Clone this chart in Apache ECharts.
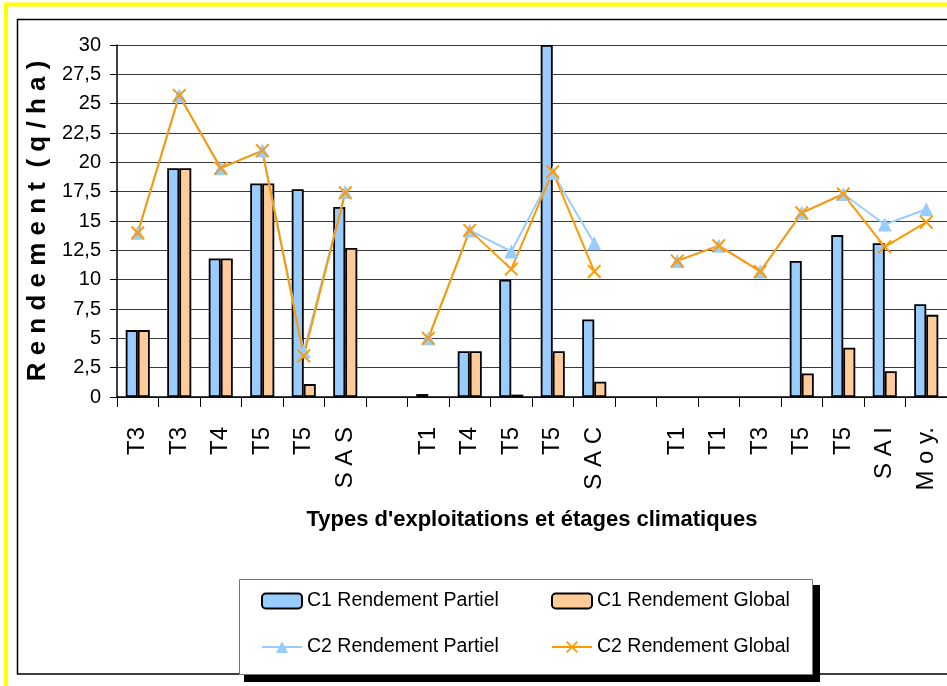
<!DOCTYPE html>
<html>
<head>
<meta charset="utf-8">
<script src="https://cdn.jsdelivr.net/npm/echarts@6/dist/echarts.min.js"></script>
<style>html,body{margin:0;padding:0;background:#fff;}#chart{width:947px;height:686px;}</style>
</head>
<body>
<div id="chart"></div>
<script>
// Category labels (empty strings are the gaps between groups)
const categories = ['T3','T3','T4','T5','T5','S A S','','T1','T4','T5','T5','S A C','','T1','T1','T3','T5','T5','S A I','M o y.'];
// Values (q/ha)
const c1Partiel = [5.7, 19.5, 11.8, 18.2, 17.7, 16.2, null, 0.25, 3.9, 10.0, 30.0, 6.6, null, null, null, null, 11.6, 13.8, 13.1, 7.9];
const c1Global  = [5.7, 19.5, 11.8, 18.2, 1.1, 12.7, null, null, 3.9, 0.2, 3.9, 1.3, null, null, null, null, 2.0, 4.2, 2.2, 7.0];
const c2Partiel = [14.0, 25.7, 19.5, 21.0, 3.9, 17.5, null, 5.0, 14.2, 12.4, 19.1, 13.1, null, 11.6, 12.9, 10.7, 15.7, 17.3, 14.7, 16.0];
const c2Global  = [14.0, 25.7, 19.5, 21.0, 3.5, 17.4, null, 5.0, 14.2, 10.9, 19.2, 10.7, null, 11.6, 12.9, 10.7, 15.7, 17.3, 12.8, 14.9];
const seriesNames = ['C1 Rendement Partiel','C1 Rendement Global','C2 Rendement Partiel','C2 Rendement Global'];
const yTitle = 'R e n d e m e n t  ( q / h a )';
const xTitle = "Types d'exploitations et étages climatiques";

const SANS = "'Liberation Sans', Arial, sans-serif";
const xMark = 'path://M0,1L1,0L10,9L9,10Z M9,0L10,1L1,10L0,9Z';

const chart = echarts.init(document.getElementById('chart'), null, {renderer: 'canvas'});

const legendCommon = {
  padding: 0, itemWidth: 40, itemHeight: 15,
  textStyle: {fontFamily: SANS, fontSize: 19.5, color: '#000'},
  selectedMode: false
};

chart.setOption({
  animation: false,
  backgroundColor: '#fff',
  graphic: [
    {type: 'rect', z: 0, shape: {x: 6, y: 4.5, width: 1000, height: 1000}, style: {fill: 'none', stroke: '#FFFF00', lineWidth: 4}},
    {type: 'rect', z: 0, shape: {x: 17.5, y: 19.5, width: 1000, height: 654.5}, style: {fill: 'none', stroke: '#000', lineWidth: 1.5}},
    {type: 'rect', z: 1, shape: {x: 244, y: 585, width: 576, height: 97}, style: {fill: '#000'}},
    {type: 'rect', z: 2, shape: {x: 239.5, y: 579.5, width: 573, height: 95}, style: {fill: '#fff', stroke: '#777', lineWidth: 1}}
  ],
  legend: [
    Object.assign({data: [seriesNames[0]], left: 261, top: 591}, legendCommon),
    Object.assign({data: [seriesNames[1]], left: 551, top: 591}, legendCommon),
    Object.assign({data: [seriesNames[2]], left: 261, top: 637}, legendCommon),
    Object.assign({data: [seriesNames[3]], left: 551, top: 637}, legendCommon)
  ],
  grid: {left: 117, top: 45, width: 832, height: 352, containLabel: false},
  xAxis: {
    type: 'category',
    data: categories,
    boundaryGap: true,
    axisLine: {lineStyle: {color: '#000', width: 1.5}},
    axisTick: {show: true, length: 10, lineStyle: {color: '#000', width: 1}},
    axisLabel: {interval: 0, rotate: 90, margin: 30, fontFamily: SANS, fontSize: 24, color: '#000'},
    name: xTitle,
    nameLocation: 'middle',
    nameGap: 112,
    nameTextStyle: {fontFamily: SANS, fontSize: 22, fontWeight: 'bold', color: '#000'}
  },
  yAxis: {
    type: 'value',
    min: 0, max: 30, interval: 2.5,
    axisLine: {show: true, lineStyle: {color: '#000', width: 1.5}},
    axisTick: {show: true, length: 7, lineStyle: {color: '#000', width: 1}},
    axisLabel: {margin: 16, fontFamily: SANS, fontSize: 20, color: '#000',
      formatter: v => String(v).replace('.', ',')},
    splitLine: {show: true, lineStyle: {color: '#3a3a3a', width: 1.2}},
    name: yTitle,
    nameLocation: 'middle',
    nameRotate: 90,
    nameGap: 56,
    nameTextStyle: {fontFamily: SANS, fontSize: 26, fontWeight: 'bold', color: '#000'}
  },
  series: [
    {name: seriesNames[0], type: 'bar', data: c1Partiel, barGap: '0%', barCategoryGap: '42%',
     itemStyle: {color: '#99CCFF', borderColor: '#000', borderWidth: 1.8}},
    {name: seriesNames[1], type: 'bar', data: c1Global, barGap: '0%', barCategoryGap: '42%',
     itemStyle: {color: '#FFCC99', borderColor: '#000', borderWidth: 1.8}},
    {name: seriesNames[2], type: 'line', data: c2Partiel, connectNulls: false,
     symbol: 'triangle', symbolSize: 14, showSymbol: true,
     lineStyle: {color: '#99CCFF', width: 2}, itemStyle: {color: '#99CCFF'}},
    {name: seriesNames[3], type: 'line', data: c2Global, connectNulls: false,
     symbol: xMark, symbolSize: 14, showSymbol: true,
     lineStyle: {color: '#FF9900', width: 2}, itemStyle: {color: '#FF9900'}}
  ]
});
</script>
</body>
</html>
